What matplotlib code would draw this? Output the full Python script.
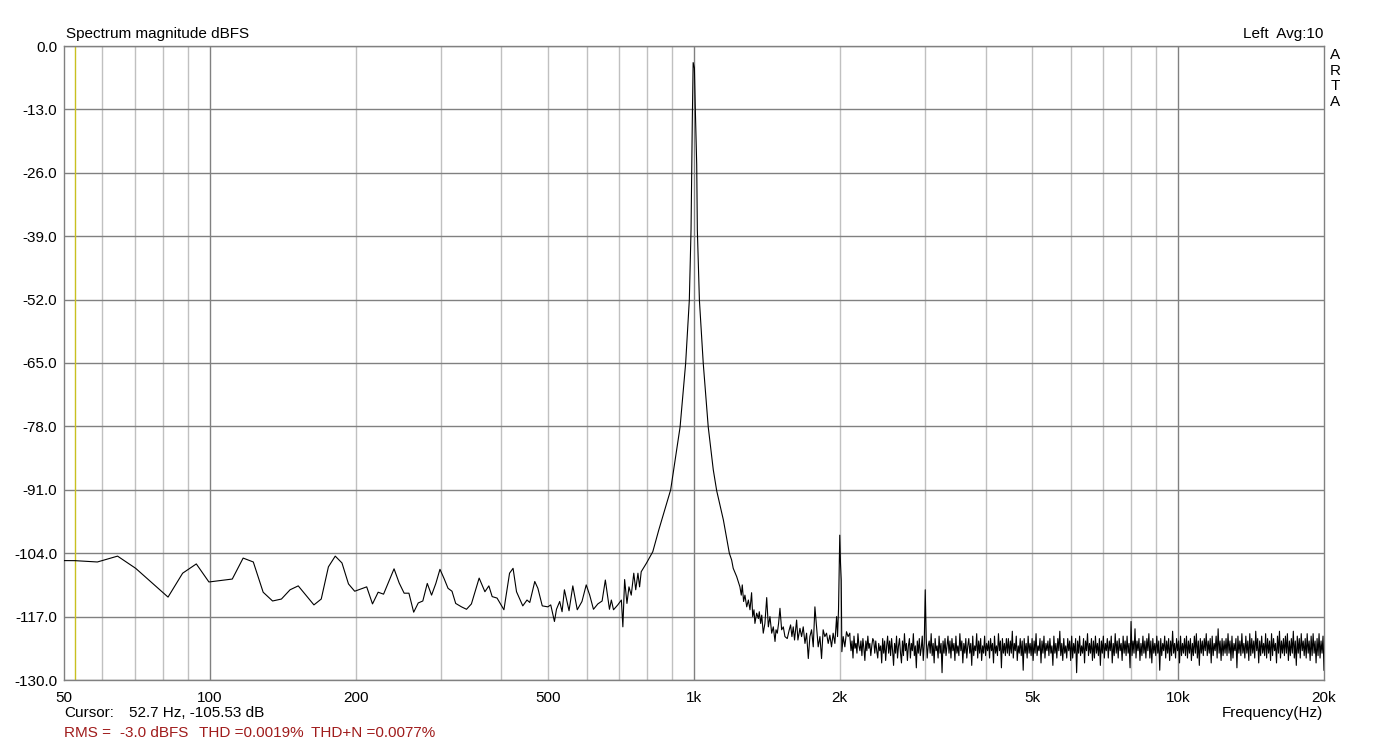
import matplotlib
matplotlib.use("Agg")
import matplotlib.pyplot as plt
import numpy as np

plt.rcParams['font.family'] = ['Liberation Sans', 'DejaVu Sans']

# spectrum below ~2.1 kHz
lf_freq = [46.9, 52.7, 58.6, 64.5, 70.3, 82.0, 87.9, 93.8, 99.6, 111.3,
           117.2, 123.0, 128.9, 134.8, 140.6, 146.5, 152.3, 164.1, 169.9, 175.8,
           181.6, 187.5, 193.4, 199.2, 210.9, 216.8, 222.7, 228.5, 240.2, 246.1,
           252.0, 257.8, 263.7, 269.5, 275.4, 281.3, 287.1, 293.0, 298.8, 304.7,
           310.5, 316.4, 322, 331, 339, 347, 360, 370, 377, 383,
           392, 405, 416, 423, 430, 443, 452, 458, 469, 476,
           486, 499, 506, 515, 520, 528, 534, 540, 552, 562,
           574, 587, 599, 609, 620, 633, 646, 656, 669, 675,
           682, 696, 708, 713, 719, 727, 734, 742, 751, 758,
           766, 772, 778, 797, 822, 846, 895, 936, 961, 978,
           986, 992, 996, 1002, 1006, 1013, 1016, 1026, 1045, 1070,
           1096, 1114, 1150, 1183, 1196, 1205, 1225, 1240, 1244, 1252,
           1258, 1266, 1274, 1285, 1295, 1305, 1315, 1322, 1330, 1336,
           1347, 1358, 1364, 1373, 1380, 1390, 1401, 1413, 1424, 1435,
           1447, 1458, 1470, 1477, 1486, 1495, 1505, 1517, 1529, 1541,
           1558, 1573, 1583, 1593, 1603, 1613, 1629, 1639, 1655, 1668,
           1681, 1695, 1708, 1722, 1735, 1749, 1763, 1777, 1791, 1805,
           1820, 1834, 1848, 1863, 1878, 1893, 1908, 1923, 1938, 1954,
           1970, 1979, 1988, 1994, 2000, 2007, 2014, 2020, 2033, 2049,
           2065, 2081, 2098]
lf_db = [-105.5, -105.53, -105.8, -104.6, -107.1, -113.0, -108.1, -106.2, -109.9, -109.3,
         -105.0, -105.8, -112.0, -113.8, -113.4, -111.5, -110.7, -114.6, -113.4, -106.8,
         -104.6, -106.0, -110.3, -111.8, -110.9, -114.4, -112.0, -112.4, -107.2, -110.1,
         -112.2, -112.2, -116.1, -114.2, -113.8, -110.2, -112.6, -110.2, -107.3, -109.2,
         -111.2, -111.8, -114.3, -115.0, -115.5, -114.4, -109.1, -111.9, -110.7, -112.9,
         -113.2, -115.6, -108.1, -107.1, -111.9, -114.8, -113.6, -114.1, -109.8, -111.2,
         -114.8, -115.0, -114.6, -118.0, -115.5, -113.9, -116.0, -111.5, -115.8, -110.7,
         -115.6, -113.9, -110.5, -112.6, -115.5, -114.4, -113.8, -109.5, -115.5, -113.6,
         -115.6, -114.6, -113.6, -119.1, -109.4, -114.3, -110.9, -112.6, -108.1, -111.5,
         -108.1, -110.9, -107.8, -106.1, -103.7, -99.2, -91.0, -78.1, -65.1, -52.1,
         -37.7, -15.2, -3.4, -4.5, -12.4, -24.4, -37.7, -52.1, -65.1, -78.1,
         -86.9, -91.2, -97.2, -104.0, -105.4, -107.1, -108.8, -110.5, -110.9, -112.6,
         -110.5, -113.9, -112.6, -115.0, -113.6, -115.6, -112.1, -117.0, -115.6, -118.4,
         -116.3, -117.4, -116.0, -118.4, -116.7, -120.4, -118.4, -113.1, -119.1, -117.0,
         -120.4, -119.1, -122.1, -119.7, -120.4, -118.4, -115.3, -119.7, -119.1, -121.1,
         -121.5, -119.7, -118.7, -121.1, -119.1, -121.8, -117.7, -121.8, -119.4, -121.1,
         -119.1, -122.5, -120.4, -125.6, -121.1, -119.7, -123.2, -115.0, -119.1, -123.2,
         -121.1, -125.6, -119.7, -121.1, -120.4, -122.5, -120.8, -123.2, -120.4, -122.5,
         -117.0, -121.1, -115.6, -107.4, -100.3, -106.1, -109.5, -124.2, -121.1, -123.2,
         -120.1, -121.1, -120.4]

# noise floor 2.1k - 20k, log spaced (about one value per pixel column)
hf_start = 2100
hf_stop = 20000
hf_db = [
    -121.5, -124.0, -122.0, -125.5, -121.0, -123.5, -122.5, -124.5, -120.5, -123.0, -124.0, -122.0, -125.0, -121.5, -123.5, -126.0, -122.0, -124.0, -121.0, -123.5,
    -122.5, -125.0, -123.0, -121.5, -122.0, -124.5, -122.0, -124.0, -125.5, -122.5, -124.0, -123.0, -126.5, -121.5, -124.5, -122.0, -126.0, -123.0, -121.0, -124.5,
    -122.0, -125.0, -121.5, -124.0, -127.0, -122.5, -124.5, -121.0, -125.5, -123.0, -121.5, -124.5, -126.5, -122.0, -125.0, -120.5, -124.0, -122.5, -126.0, -123.0,
    -121.5, -125.5, -122.5, -124.0, -120.5, -125.0, -123.0, -127.5, -122.0, -124.5, -121.5, -125.0, -123.5, -121.0, -126.0, -122.5, -111.5, -121.5, -125.5, -123.0,
    -122.0, -124.5, -120.5, -125.0, -122.5, -126.5, -121.5, -124.0, -123.0, -125.5, -121.0, -124.5, -122.5, -128.5, -122.0, -124.5, -121.5, -125.0, -123.0, -121.0,
    -124.5, -122.0, -125.5, -121.5, -124.0, -122.5, -126.0, -121.0, -124.5, -123.0, -125.0, -120.5, -124.0, -122.0, -126.5, -122.5, -124.5, -121.5, -125.5, -123.0,
    -121.5, -124.5, -122.5, -127.0, -121.0, -125.0, -123.0, -124.0, -120.5, -125.5, -122.0, -124.5, -121.5, -126.0, -123.0, -124.5, -121.0, -125.0, -122.5, -124.0,
    -122.0, -125.5, -121.5, -124.0, -122.5, -126.5, -121.0, -124.5, -123.0, -125.0, -120.5, -124.0, -122.0, -127.5, -121.5, -124.5, -122.5, -125.0, -121.5, -124.5,
    -121.5, -125.0, -122.0, -124.5, -120.0, -125.5, -122.5, -124.0, -121.0, -126.0, -123.0, -124.5, -121.5, -125.0, -122.0, -128.0, -121.5, -124.5, -122.5, -125.5,
    -121.0, -124.5, -122.5, -125.0, -121.5, -126.0, -122.0, -124.5, -120.5, -125.0, -123.0, -124.0, -121.5, -126.5, -122.0, -124.5, -121.0, -125.5, -122.5, -124.0,
    -122.0, -125.0, -121.5, -124.5, -123.0, -127.0, -121.0, -124.5, -122.5, -125.5, -121.5, -124.0, -120.0, -125.0, -122.5, -126.0, -121.5, -124.5, -123.0, -125.5,
    -121.5, -124.0, -122.0, -126.0, -121.0, -125.5, -122.5, -124.5, -121.5, -128.5, -122.0, -124.5, -121.0, -125.0, -123.0, -124.5, -121.5, -126.5, -122.0, -124.0,
    -120.5, -125.0, -122.5, -124.5, -121.5, -126.0, -122.0, -125.5, -121.0, -124.5, -122.5, -125.0, -121.5, -127.0, -122.0, -124.5, -121.0, -125.5, -122.5, -124.0,
    -121.5, -125.5, -122.0, -124.0, -121.0, -126.5, -122.5, -125.0, -120.5, -124.5, -122.0, -125.5, -121.5, -124.0, -122.5, -126.0, -121.0, -124.5, -122.0, -125.0,
    -121.0, -124.5, -122.5, -127.5, -118.0, -125.0, -122.0, -124.5, -119.5, -125.5, -122.0, -124.0, -121.5, -126.0, -122.5, -125.0, -121.0, -124.5, -122.0, -125.5,
    -121.5, -124.0, -120.5, -125.5, -122.0, -126.5, -121.5, -124.5, -122.5, -125.0, -121.0, -124.5, -122.0, -128.0, -121.5, -125.0, -122.5, -124.0, -121.0, -125.5,
    -122.0, -124.5, -121.5, -126.0, -122.0, -125.0, -120.0, -124.5, -122.5, -125.5, -121.5, -124.0, -122.0, -126.5, -121.0, -125.0, -122.5, -124.5, -121.5, -125.0,
    -121.0, -125.5, -122.0, -124.5, -121.5, -126.0, -122.5, -125.0, -121.0, -124.5, -120.5, -125.5, -122.0, -127.0, -121.5, -124.5, -122.0, -125.0, -121.5, -124.0,
    -120.5, -125.0, -122.0, -124.5, -121.5, -126.5, -121.0, -125.0, -122.5, -124.0, -121.0, -125.5, -119.5, -124.5, -122.0, -126.0, -121.5, -125.0, -122.0, -124.5,
    -121.5, -125.0, -120.5, -124.5, -122.0, -126.0, -121.0, -125.5, -122.5, -124.0, -121.5, -127.5, -121.0, -124.5, -122.0, -125.0, -120.5, -124.5, -122.5, -125.5,
    -121.0, -124.5, -122.0, -126.0, -120.5, -125.0, -121.5, -124.5, -122.0, -125.5, -120.0, -124.0, -121.5, -126.5, -122.0, -125.0, -121.0, -124.5, -122.5, -125.0,
    -120.5, -125.5, -121.5, -124.5, -122.0, -126.0, -120.5, -125.0, -121.5, -124.0, -122.5, -126.5, -121.0, -124.5, -120.0, -125.5, -122.0, -124.5, -121.5, -125.0,
    -121.0, -124.5, -120.5, -126.0, -122.0, -125.0, -121.5, -124.5, -120.0, -125.5, -122.0, -127.0, -121.0, -124.5, -121.5, -125.5, -120.5, -124.0, -122.0, -125.0,
    -121.5, -125.5, -120.5, -124.5, -122.0, -126.0, -121.0, -125.0, -120.5, -124.5, -122.0, -126.5, -121.5, -125.0, -120.5, -125.5, -122.0, -124.5, -121.0, -128.0,
]

yticks = [0, -13, -26, -39, -52, -65, -78, -91, -104, -117, -130]
xticks = [50, 100, 200, 500, 1000, 2000, 5000, 10000, 20000]
xlabels = ["50", "100", "200", "500", "1k", "2k", "5k", "10k", "20k"]
decade_lines = [100, 1000, 10000]
light_lines = [60, 70, 80, 90, 200, 300, 400, 500, 600, 700, 800, 900,
               2000, 3000, 4000, 5000, 6000, 7000, 8000, 9000]

cursor_freq = 52.7
cursor_db = -105.53
info_parts = ["RMS =", "-3.0 dBFS", "THD =0.0019%", "THD+N =0.0077%"]
info_x = [64, 120, 199, 311]

W, H = 1388, 743
fig = plt.figure(figsize=(W / 100, H / 100), dpi=100)
ax = fig.add_axes([64 / W, 1 - 680 / H, 1260 / W, 634 / H])

for f in light_lines:
    ax.axvline(f, color="#c0c0c0", lw=1, zorder=1)
for f in decade_lines:
    ax.axvline(f, color="#808080", lw=1, zorder=1)
for y in yticks:
    ax.axhline(y, color="#808080", lw=1, zorder=1)
ax.axvline(cursor_freq, color="#c8c020", lw=1, zorder=2)

freq = np.concatenate([lf_freq, np.geomspace(hf_start, hf_stop, len(hf_db))])
db = np.concatenate([lf_db, hf_db])
ax.semilogx(freq, db, color="black", lw=0.8, zorder=3)

ax.set_xlim(50, 20000)
ax.set_ylim(-130, 0)
ax.set_xticks(xticks)
ax.set_xticklabels(xlabels)
ax.xaxis.set_minor_locator(matplotlib.ticker.NullLocator())
ax.set_yticks(yticks)
ax.set_yticklabels(["%.1f" % v for v in yticks])
ax.tick_params(axis="both", length=0, labelsize=11)
ax.tick_params(axis="x", pad=8)
ax.tick_params(axis="y", pad=5)
for s in ax.spines.values():
    s.set_color("#808080")
    s.set_linewidth(1)

fs = 11
fig.text(66 / W, 1 - 34 / H, "Spectrum magnitude dBFS", fontsize=fs, va="center")
fig.text(1323 / W, 1 - 34 / H, "Left  Avg:10", fontsize=fs, va="center", ha="right")
fig.text(1335 / W, 1 - 48 / H, "A\nR\nT\nA", fontsize=fs, va="top", ha="center",
         linespacing=1.14)
fig.text(64 / W, 1 - 713 / H, "Cursor:", fontsize=fs, va="center")
fig.text(129 / W, 1 - 713 / H, "%.1f Hz, %.2f dB" % (cursor_freq, cursor_db),
         fontsize=fs, va="center")
fig.text(1323 / W, 1 - 713 / H, "Frequency(Hz)", fontsize=fs, va="center", ha="right")
for part, px in zip(info_parts, info_x):
    fig.text(px / W, 1 - 733 / H, part, fontsize=fs, va="center", color="#a01c1c")

fig.savefig("out.png", dpi=100)
